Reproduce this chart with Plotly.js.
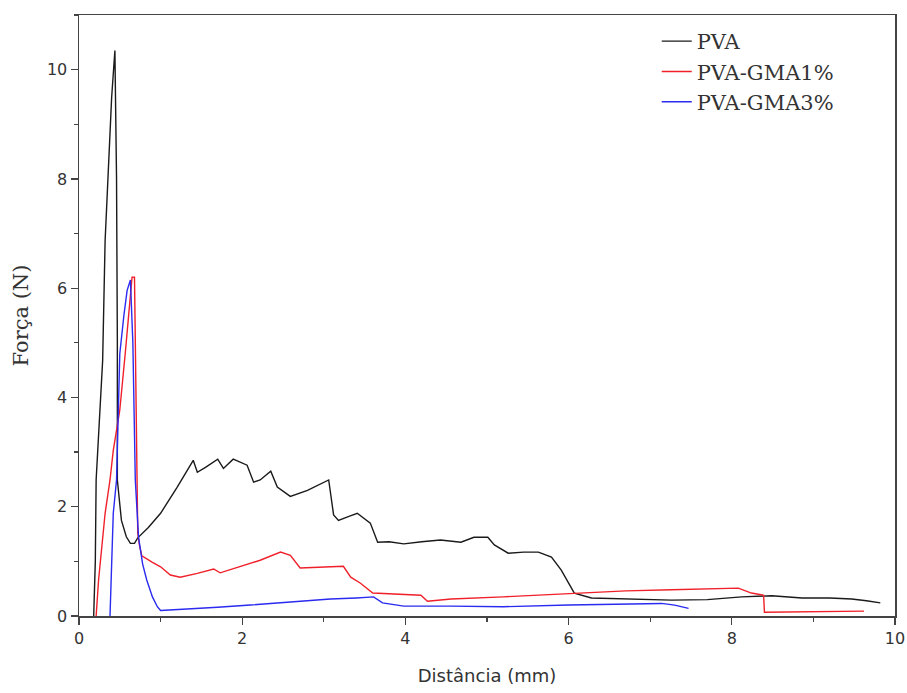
<!DOCTYPE html>
<html>
<head>
<meta charset="utf-8">
<script src="https://cdn.plot.ly/plotly-3.0.1.min.js"></script>
<style>html,body{margin:0;padding:0;background:#fff;}#chart{width:907px;height:693px;}</style>
</head>
<body>
<div id="chart"></div>
<script>
// ---- data ----
const seriesNames = ["PVA", "PVA-GMA1%", "PVA-GMA3%"];

const pvaX = [0.18, 0.20, 0.21, 0.29, 0.32, 0.36, 0.40, 0.44, 0.46, 0.47, 0.47, 0.52, 0.58, 0.63, 0.68, 0.72, 0.85, 1.00, 1.20, 1.40, 1.45, 1.55, 1.70, 1.77, 1.89, 2.06, 2.14, 2.22, 2.35, 2.43, 2.59, 2.80, 3.06, 3.12, 3.18, 3.30, 3.41, 3.57, 3.66, 3.80, 3.98, 4.20, 4.43, 4.68, 4.84, 5.01, 5.09, 5.26, 5.45, 5.63, 5.79, 5.91, 6.03, 6.07, 6.28, 6.70, 7.26, 7.70, 8.12, 8.49, 8.86, 9.20, 9.47, 9.65, 9.82];
const pvaY = [0.00, 1.00, 2.49, 4.68, 6.87, 8.15, 9.49, 10.35, 8.00, 5.00, 2.49, 1.75, 1.45, 1.33, 1.33, 1.43, 1.62, 1.88, 2.35, 2.85, 2.63, 2.72, 2.87, 2.70, 2.87, 2.76, 2.45, 2.49, 2.65, 2.36, 2.19, 2.30, 2.49, 1.85, 1.75, 1.82, 1.88, 1.70, 1.35, 1.36, 1.32, 1.36, 1.39, 1.35, 1.44, 1.44, 1.30, 1.15, 1.17, 1.17, 1.08, 0.84, 0.53, 0.42, 0.33, 0.31, 0.29, 0.30, 0.35, 0.37, 0.33, 0.33, 0.31, 0.28, 0.24];

const gma1X = [0.21, 0.24, 0.32, 0.38, 0.42, 0.50, 0.57, 0.62, 0.65, 0.68, 0.70, 0.72, 0.74, 0.77, 0.90, 1.00, 1.12, 1.24, 1.45, 1.65, 1.73, 2.00, 2.22, 2.47, 2.59, 2.71, 3.00, 3.24, 3.33, 3.45, 3.60, 3.90, 4.19, 4.27, 4.56, 5.20, 6.07, 6.70, 7.26, 7.70, 8.08, 8.24, 8.39, 8.40, 8.90, 9.62];
const gma1Y = [0.00, 0.66, 1.88, 2.49, 3.03, 3.77, 4.86, 5.70, 6.20, 6.20, 4.00, 1.52, 1.30, 1.10, 0.98, 0.90, 0.75, 0.71, 0.78, 0.86, 0.79, 0.92, 1.02, 1.17, 1.11, 0.88, 0.89, 0.91, 0.71, 0.60, 0.42, 0.40, 0.38, 0.27, 0.31, 0.35, 0.42, 0.46, 0.48, 0.50, 0.51, 0.42, 0.38, 0.07, 0.08, 0.09];

const gma3X = [0.38, 0.40, 0.42, 0.46, 0.50, 0.55, 0.59, 0.63, 0.66, 0.69, 0.73, 0.78, 0.83, 0.90, 0.96, 1.00, 1.30, 1.70, 2.10, 2.50, 3.08, 3.40, 3.61, 3.72, 3.98, 4.56, 5.20, 6.00, 6.60, 7.14, 7.30, 7.47];
const gma3Y = [0.00, 0.80, 1.88, 2.49, 4.80, 5.50, 5.96, 6.15, 5.00, 2.49, 1.44, 0.95, 0.66, 0.35, 0.17, 0.10, 0.12, 0.16, 0.20, 0.25, 0.31, 0.33, 0.35, 0.24, 0.18, 0.18, 0.17, 0.20, 0.22, 0.23, 0.20, 0.14];

const xTickVals = [0, 2, 4, 6, 8, 10];
const yTickVals = [0, 2, 4, 6, 8, 10];

const colors = ["#1a1a1a", "#f0202a", "#2a2af0"];
const xs = [pvaX, gma1X, gma3X];
const ys = [pvaY, gma1Y, gma3Y];

const traces = seriesNames.map((n, i) => ({
  type: "scatter", mode: "lines", name: n,
  x: xs[i], y: ys[i],
  legendgroup: "g" + i,
  line: {color: colors[i], width: 1.4}
}));

const axisCommon = {
  showgrid: false, zeroline: false,
  showline: true, linecolor: "#444", linewidth: 1.5, mirror: true,
  ticks: "outside", ticklen: 7, tickwidth: 1.3, tickcolor: "#444",
  tickfont: {family: "DejaVu Sans", size: 16, color: "#333"},
  minor: {ticks: "outside", ticklen: 4, tickwidth: 1.2, tickcolor: "#444", dtick: 1}
};

const layout = {
  width: 907, height: 693,
  margin: {l: 79, r: 12, t: 15, b: 77},
  paper_bgcolor: "#fff", plot_bgcolor: "#fff",
  showlegend: true,
  legend: {
    x: 0.708, y: 0.99, xanchor: "left", yanchor: "top",
    bgcolor: "rgba(0,0,0,0)", borderwidth: 0,
    traceorder: "grouped", tracegroupgap: 0,
    font: {family: "DejaVu Serif", size: 21, color: "#333"}
  },
  xaxis: Object.assign({}, axisCommon, {
    range: [0, 10], tickvals: xTickVals,
    title: {text: "Distância (mm)", font: {family: "DejaVu Sans", size: 18, color: "#333"}, standoff: 22}
  }),
  yaxis: Object.assign({}, axisCommon, {
    range: [0, 11], tickvals: yTickVals,
    title: {text: "Força (N)", font: {family: "DejaVu Serif", size: 21, color: "#333"}, standoff: 12}
  })
};

Plotly.newPlot("chart", traces, layout, {staticPlot: true, displayModeBar: false});
</script>
</body>
</html>
